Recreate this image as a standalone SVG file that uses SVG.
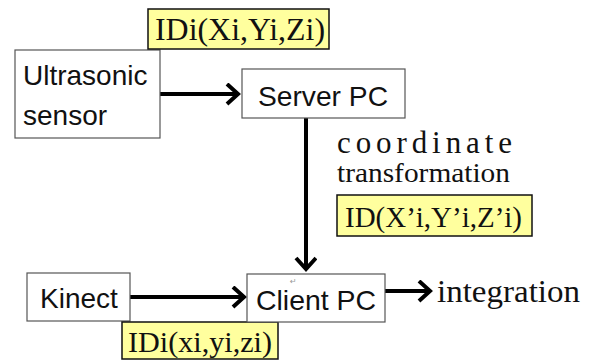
<svg xmlns="http://www.w3.org/2000/svg" width="590" height="361" viewBox="0 0 590 361">
<defs>
<style>
.box{fill:#fff;stroke:#555;stroke-width:1.2}
.tag{fill:#ffff9e;stroke:#111;stroke-width:1.5}
.sans{font-family:"Liberation Sans",Arial,sans-serif;font-size:28px;fill:#111}
.serif{font-family:"Liberation Serif","Times New Roman",serif;fill:#111}
.conn{stroke:#000;stroke-width:4;fill:none}
</style>
<marker id="ah" markerUnits="userSpaceOnUse" markerWidth="22" markerHeight="24" refX="17" refY="11" orient="auto" viewBox="0 0 22 24">
<path d="M6,1 L17,11 L6,21" fill="none" stroke="#000" stroke-width="4" stroke-linecap="butt"/>
</marker>
</defs>
<rect width="590" height="361" fill="#fff"/>
<g id="connectors">
<line class="conn" x1="160" y1="94" x2="238" y2="94" marker-end="url(#ah)"/>
<line class="conn" x1="306" y1="118" x2="306" y2="269" stroke-width="3.5" marker-end="url(#ah)"/>
<line class="conn" x1="130" y1="297" x2="244" y2="297" marker-end="url(#ah)"/>
<line class="conn" x1="385" y1="291" x2="430" y2="291" marker-end="url(#ah)"/>
</g>
<g id="ultrasonic">
<rect class="box" x="15" y="50" width="145" height="88"/>
<text class="sans" x="23" y="85" font-size="29">Ultrasonic</text>
<text class="sans" x="23" y="125" font-size="29">sensor</text>
</g>
<g id="tag-ultra">
<rect class="tag" x="148" y="9" width="181" height="40"/>
<text class="serif" x="155" y="40" font-size="31" textLength="170" lengthAdjust="spacingAndGlyphs">IDi(Xi,Yi,Zi)</text>
</g>
<g id="server">
<rect class="box" x="242" y="69" width="163" height="49"/>
<text class="sans" x="258" y="106" textLength="130" lengthAdjust="spacingAndGlyphs">Server PC</text>
</g>
<g id="transform-label">
<text class="serif" x="337" y="153" font-size="31" textLength="175" lengthAdjust="spacing">coordinate</text>
<text class="serif" x="337" y="182" font-size="27" textLength="173" lengthAdjust="spacingAndGlyphs">transformation</text>
</g>
<g id="tag-server">
<rect class="tag" x="337" y="195" width="195" height="41"/>
<text class="serif" x="345" y="227" font-size="30" textLength="177" lengthAdjust="spacingAndGlyphs">ID(X’i,Y’i,Z’i)</text>
</g>
<g id="kinect">
<rect class="box" x="27" y="273" width="103" height="48"/>
<text class="sans" x="40" y="308">Kinect</text>
</g>
<g id="tag-kinect">
<rect class="tag" x="122" y="322" width="156" height="37"/>
<text class="serif" x="128" y="352" font-size="30" textLength="144" lengthAdjust="spacingAndGlyphs">IDi(xi,yi,zi)</text>
</g>
<g id="client">
<rect class="box" x="247" y="274" width="138" height="48"/>
<text class="sans" x="256" y="310" textLength="120" lengthAdjust="spacingAndGlyphs">Client PC</text>
<text x="290" y="284" font-family="DejaVu Sans,sans-serif" font-size="8" fill="#999">↵</text>
</g>
<g id="integration">
<text class="serif" x="437" y="302" font-size="32" textLength="143" lengthAdjust="spacingAndGlyphs">integration</text>
</g>
</svg>
